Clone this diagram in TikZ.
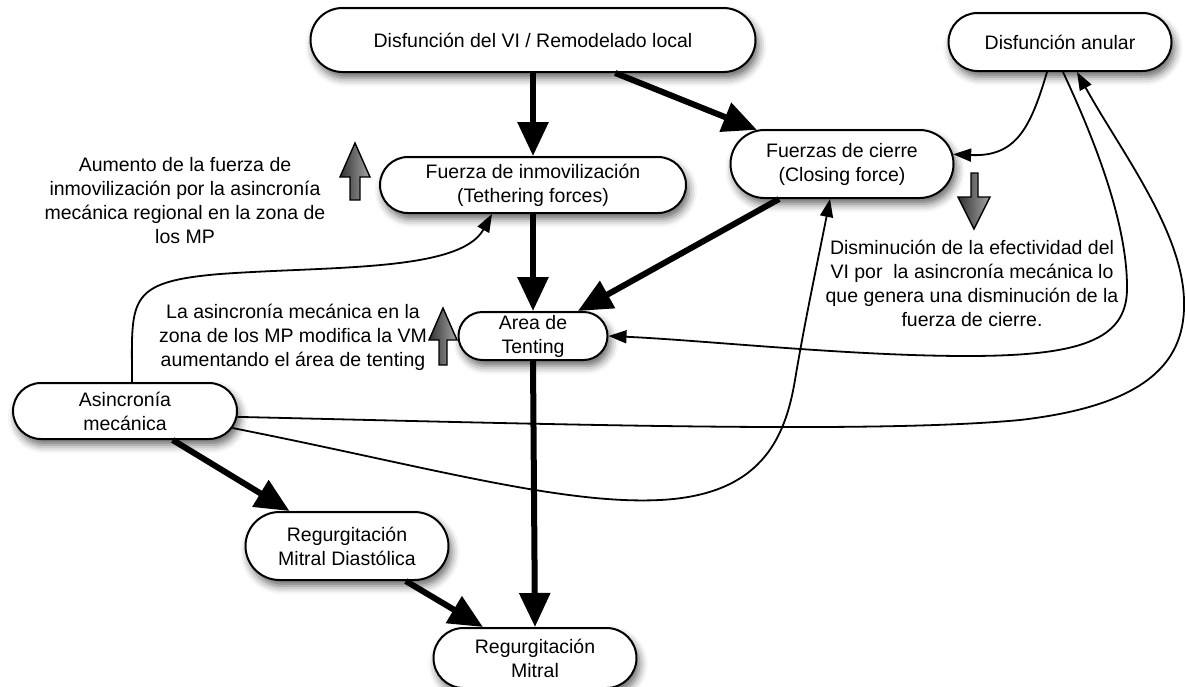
\documentclass[tikz,border=0pt]{standalone}
\usepackage{fontspec}
\setmainfont{Liberation Sans}
\usetikzlibrary{arrows.meta, shapes.misc, calc, shadows.blur}
\tikzset{
  caja/.style={rounded rectangle, draw, line width=2pt, fill=white, align=center, inner sep=1pt,
    blur shadow={shadow xshift=3pt, shadow yshift=-6pt, shadow blur radius=8pt, shadow opacity=60}},
  flecha/.style={line width=6pt, -{Triangle[length=34pt,width=30pt]}},
  fina/.style={line width=1.8pt, -{Triangle[length=18pt,width=13pt]}},
  gris/.style={draw, line width=1.4pt, left color=black!80, right color=black!35}
}

\begin{document}
\begin{tikzpicture}[x=1pt, y=-1pt, font=\fontsize{19.5}{24}\selectfont]
            \useasboundingbox (0,0) rectangle (1186,686);
            % cajas
            \node[caja, minimum width=447pt, minimum height=64pt] (dvi) at (533,40) {Disfunción del VI / Remodelado local};
            \node[caja, minimum width=225pt, minimum height=58pt] (anular) at (1060,42) {Disfunción anular};
            \node[caja, minimum width=308pt, minimum height=56pt] (inmov) at (533,185) {Fuerza de inmovilización\\(Tethering forces)};
            \node[caja, minimum width=225pt, minimum height=68pt] (cierre) at (842,164) {Fuerzas de cierre\\(Closing force)};
            \node[caja, minimum width=151pt, minimum height=48pt] (tenting) at (533,336) {Area de\\Tenting};
            \node[caja, minimum width=226pt, minimum height=56pt] (asinc) at (125,411) {Asincronía\\mecánica};
            \node[caja, minimum width=205pt, minimum height=68pt] (rmd) at (347,546) {Regurgitación\\Mitral Diastólica};
            \node[caja, minimum width=205pt, minimum height=60pt] (rm) at (535,658) {Regurgitación\\Mitral};
            % textos
            \node[align=center] (txtinmov) at (185,201) {Aumento de la fuerza de\\inmovilización por la asincronía\\mecánica regional en la zona de\\los MP};
            \node[align=center] (txttent) at (293,337) {La asincronía mecánica en la\\zona de los MP modifica la VM\\aumentando el área de tenting};
            \node[align=center] (txtcierre) at (972,283) {Disminución de la efectividad del\\VI por~ la asincronía mecánica lo\\que genera una disminución de la\\fuerza de cierre.};
            % flechas grises
            \draw[gris] (350,200) -- (350,177) -- (340,177) -- (355,143) -- (370,177) -- (360,177) -- (360,200) -- cycle;
            \draw[gris] (439,365) -- (439,340) -- (429,340) -- (443,308) -- (457,340) -- (447,340) -- (447,365) -- cycle;
            \draw[gris] (971,173) -- (971,197) -- (958,197) -- (974,229) -- (990,197) -- (978,197) -- (978,173) -- cycle;
            % flechas gruesas
            \draw[flecha] (dvi.south) -- (inmov.north);
            \draw[flecha] (inmov.south) -- (tenting.north);
            \draw[flecha] (tenting.south) -- (rm.north);
            \foreach \a/\b in {dvi/cierre, cierre/tenting, asinc/rmd, rmd/rm}{
                \draw[flecha] (\a) -- (\b);
            }
            % curvas finas
            \draw[fina] ($(asinc.north)+(7,0)$) .. controls (132,300) and (125,282) .. (220,274)
                .. controls (330,266) and (460,272) .. ($(inmov.south)+(-41,0)$);
            \draw[fina] (asinc.-3) .. controls (550,424) and (870,434) .. (1020,420)
                .. controls (1150,405) and (1186,360) .. (1184,300)
                .. controls (1182,230) and (1120,150) .. ($(anular.south)+(17,0)$);
            \draw[fina] (asinc.-9) .. controls (420,465) and (560,505) .. (660,500)
                .. controls (760,495) and (785,440) .. (795,380)
                .. controls (805,320) and (818,260) .. ($(cierre.south)+(-12,0)$);
            \draw[fina] ($(anular.south)+(-13,0)$) .. controls (1030,130) and (1015,157) .. (cierre.5);
            \draw[fina] ($(anular.south)+(3,0)$) .. controls (1090,130) and (1128,220) .. (1127,290)
                .. controls (1126,340) and (1080,356) .. (967,356)
                .. controls (850,356) and (700,340) .. (tenting.east);
\end{tikzpicture}
\end{document}
